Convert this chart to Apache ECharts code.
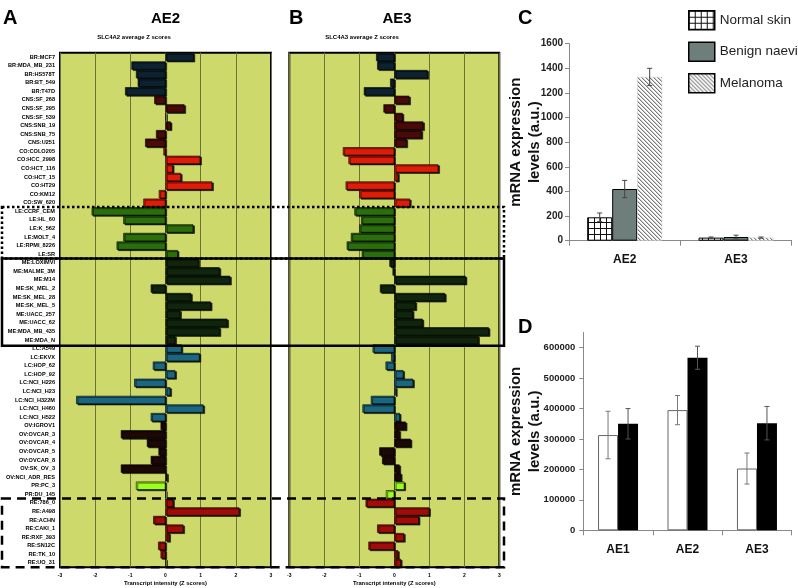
<!DOCTYPE html>
<html><head><meta charset="utf-8">
<script src="https://cdn.jsdelivr.net/npm/echarts@6/dist/echarts.min.js"></script>
<style>html,body{margin:0;padding:0;background:#fff}#c{width:798px;height:588px}</style>
</head><body><div id="c"></div>
<script>
const cellLines = ['BR:MCF7','BR:MDA_MB_231','BR:HS578T','BR:BT_549','BR:T47D',
 'CNS:SF_268','CNS:SF_295','CNS:SF_539','CNS:SNB_19','CNS:SNB_75','CNS:U251',
 'CO:COLO205','CO:HCC_2998','CO:HCT_116','CO:HCT_15','CO:HT29','CO:KM12','CO:SW_620',
 'LE:CCRF_CEM','LE:HL_60','LE:K_562','LE:MOLT_4','LE:RPMI_8226','LE:SR',
 'ME:LOXIMVI','ME:MALME_3M','ME:M14','ME:SK_MEL_2','ME:SK_MEL_28','ME:SK_MEL_5','ME:UACC_257','ME:UACC_62','ME:MDA_MB_435','ME:MDA_N',
 'LC:A549','LC:EKVX','LC:HOP_62','LC:HOP_92','LC:NCI_H226','LC:NCI_H23','LC:NCI_H322M','LC:NCI_H460','LC:NCI_H522',
 'OV:IGROV1','OV:OVCAR_3','OV:OVCAR_4','OV:OVCAR_5','OV:OVCAR_8','OV:SK_OV_3','OV:NCI_ADR_RES',
 'PR:PC_3','PR:DU_145',
 'RE:786_0','RE:A498','RE:ACHN','RE:CAKI_1','RE:RXF_393','RE:SN12C','RE:TK_10','RE:UO_31'];
const ae2Z = [0.80,-0.97,-0.84,-0.79,-1.15,
 -0.32,0.54,0.02,0.15,-0.27,-0.58,
 -0.06,0.99,0.21,0.44,1.33,-0.19,-0.63,
 -2.10,-1.20,0.79,-1.20,-1.39,0.35,
 0.94,1.54,1.84,-0.42,0.73,1.29,0.42,1.76,1.54,0.28,
 0.46,0.97,-0.36,0.28,-0.89,0.14,-2.54,1.08,-0.42,
 -0.14,-1.27,-0.53,-0.20,-0.42,-1.27,0.05,
 -0.84,0.01,
 0.22,2.10,-0.35,0.51,0.11,-0.21,-0.14,0.02];
const ae3Z = [-0.52,-0.49,0.95,-0.12,-0.87,
 0.43,-0.31,0.24,0.83,0.78,0.35,
 -1.47,-1.31,1.26,0.11,-1.39,-1.00,0.45,
 -1.14,-0.95,-1.00,-1.24,-1.36,-0.93,
 -0.14,-0.05,2.04,-0.41,1.45,0.61,0.53,0.81,2.70,2.40,
 -0.62,-0.09,-0.25,0.26,0.54,0.05,-0.67,-0.91,0.16,
 0.33,0.15,0.47,-0.43,-0.35,0.15,0.19,
 0.29,-0.24,
 -0.82,1.00,0.70,-0.49,0.28,-0.74,0.11,0.19];
const zTicks = [-3,-2,-1,0,1,2,3];

const cCategories = ['AE2','AE3'];
const cSeriesNames = ['Normal skin','Benign naevi','Melanoma'];
const normalSkin = [190, 25];
const normalSkinErr = [35, 5];
const benignNaevi = [420, 30];
const benignNaeviErr = [70, 15];
const melanoma = [1330, 25];
const melanomaErr = [70, 5];

const dCategories = ['AE1','AE2','AE3'];
const dWhite = [313000, 395000, 203000];
const dWhiteErr = [78000, 48000, 51000];
const dBlack = [350000, 567000, 352000];
const dBlackErr = [50000, 38000, 55000];

const groupColor = {BR:'#0d2231',CNS:'#4b0a08',CO:'#e01b07',LE:'#2b6f0c',ME:'#0f260c',LC:'#1b6680',OV:'#1e0707',PR:'#9dff1d',RE:'#a10c08'};
const prefix = s => s.split(':')[0];

function gridPattern(){
  const c=document.createElement('canvas'); c.width=6; c.height=6;
  const g=c.getContext('2d'); g.fillStyle='#fff'; g.fillRect(0,0,6,6);
  g.fillStyle='#111'; g.fillRect(0,0,6,1); g.fillRect(0,0,1,6); return c;
}
function hatchPattern(){
  const c=document.createElement('canvas'); c.width=4; c.height=4;
  const g=c.getContext('2d'); g.fillStyle='#fff'; g.fillRect(0,0,4,4);
  g.fillStyle='#7a7a7a'; for(let i=0;i<4;i++){ g.fillRect(i,i,1,1); }
  g.fillStyle='#c8c8c8'; for(let i=0;i<4;i++){ g.fillRect((i+1)%4,i,1,1); }
  return c;
}
const gridFill = {image: gridPattern(), repeat:'repeat'};
const hatchFill = {image: hatchPattern(), repeat:'repeat'};

const FF = 'Liberation Sans, Arial, sans-serif';
const plain = v => String(v);

function zSeries(vals, idx){
  return {type:'bar', xAxisIndex:idx, yAxisIndex:idx, barCategoryGap:'4%',
    data: vals.map((v,i)=>({value:v, itemStyle:{color: groupColor[prefix(cellLines[i])]}})),
    itemStyle:{borderColor:'#000', borderWidth:0.6, shadowColor:'rgba(0,0,0,0.85)', shadowOffsetX:1.5, shadowOffsetY:1.2, shadowBlur:0},
    silent:true, animation:false};
}
function errRender(offset, cap, color){
  return function(params, api){
    const x=api.value(0), v=api.value(1), e=api.value(2);
    const t=api.coord([x, v+e]), b=api.coord([x, v-e]);
    const cx=t[0]+offset;
    const st={stroke:color, lineWidth:1};
    return {type:'group', children:[
      {type:'line', shape:{x1:cx,y1:t[1],x2:cx,y2:b[1]}, style:st},
      {type:'line', shape:{x1:cx-cap,y1:t[1],x2:cx+cap,y2:t[1]}, style:st},
      {type:'line', shape:{x1:cx-cap,y1:b[1],x2:cx+cap,y2:b[1]}, style:st}
    ]};
  };
}
function errSeries(name, vals, errs, xi, offset, cap, color){
  return {type:'custom', name:name, xAxisIndex:xi, yAxisIndex:xi, z:5, silent:true,
    data: vals.map((v,i)=>[i, v, errs[i]]), renderItem: errRender(offset, cap, color)};
}
function zXAxis(gi){
  return {type:'value', gridIndex:gi, min:zTicks[0], max:zTicks[zTicks.length-1], interval:1,
    splitLine:{show:true, lineStyle:{color:'#6d7236', width:1}},
    axisLine:{show:false}, axisTick:{show:false},
    axisLabel:{fontSize:5, color:'#000', fontWeight:'bold', margin:6, fontFamily:FF},
    name:'Transcript intensity (Z scores)', nameLocation:'middle', nameGap:13, nameMoveOverlap:false,
    nameTextStyle:{fontSize:5.8, fontWeight:'bold', color:'#000', fontFamily:FF}};
}
function zYAxis(gi, show){
  return {type:'category', gridIndex:gi, inverse:true, data:cellLines,
    axisLine:{show:false, onZero:false}, axisTick:{show:false}, splitLine:{show:false},
    axisLabel:{show:show, interval:0, fontSize:5.6, fontWeight:'bold', color:'#000', margin:5, fontFamily:FF}};
}

const yName = {fontSize:15, fontWeight:'bold', color:'#111', lineHeight:19, fontFamily:FF};
const tBig = {fontSize:20, fontWeight:'bold', color:'#000', fontFamily:FF};

const option = {
  animation:false,
  backgroundColor:'#fff',
  title:[
    {text:'A', left:3, top:8, padding:0, textStyle:tBig},
    {text:'AE2', left:165.5, top:11, padding:0, textAlign:'center', textStyle:{fontSize:15, fontWeight:'bold', color:'#000', fontFamily:FF}},
    {text:'SLC4A2 average Z scores', left:134, top:34, padding:0, textAlign:'center', textStyle:{fontSize:6, fontWeight:'bold', color:'#000', fontFamily:FF}},
    {text:'B', left:289, top:8, padding:0, textStyle:tBig},
    {text:'AE3', left:397, top:11, padding:0, textAlign:'center', textStyle:{fontSize:15, fontWeight:'bold', color:'#000', fontFamily:FF}},
    {text:'SLC4A3 average Z scores', left:362, top:34, padding:0, textAlign:'center', textStyle:{fontSize:6, fontWeight:'bold', color:'#000', fontFamily:FF}},
    {text:'C', left:518, top:8, padding:0, textStyle:tBig},
    {text:'D', left:518, top:317, padding:0, textStyle:tBig}
  ],
  legend:{data:cSeriesNames, orient:'vertical', left:683, top:5, itemWidth:26, itemHeight:19, itemGap:11, icon:'rect',
    textStyle:{fontSize:13.5, color:'#222', fontFamily:FF}, itemStyle:{borderColor:'#000', borderWidth:1.5}, selectedMode:false},
  grid:[
    {left:60, top:52.7, width:211, height:514.5, show:true, backgroundColor:'#cdd96a', borderColor:'#000', borderWidth:2, outerBoundsMode:'none', containLabel:false},
    {left:289.3, top:52.7, width:210, height:514.5, show:true, backgroundColor:'#cdd96a', borderColor:'#000', borderWidth:2, outerBoundsMode:'none', containLabel:false},
    {left:569, top:43.7, width:222.7, height:197, outerBoundsMode:'none', containLabel:false},
    {left:583.3, top:332.5, width:208.4, height:197.8, outerBoundsMode:'none', containLabel:false}
  ],
  xAxis:[
    zXAxis(0), zXAxis(1),
    {type:'category', gridIndex:2, data:cCategories,
      axisLine:{lineStyle:{color:'#888'}}, axisTick:{show:true, length:5, lineStyle:{color:'#888'}},
      axisLabel:{fontSize:12, fontWeight:'bold', color:'#111', margin:13, fontFamily:FF}},
    {type:'category', gridIndex:3, data:dCategories,
      axisLine:{lineStyle:{color:'#888'}}, axisTick:{show:true, length:5, lineStyle:{color:'#888'}},
      axisLabel:{fontSize:12, fontWeight:'bold', color:'#111', margin:13, fontFamily:FF}}
  ],
  yAxis:[
    zYAxis(0, true), zYAxis(1, false),
    {type:'value', gridIndex:2, min:0, max:1600, interval:200, splitLine:{show:false},
      axisLine:{show:true, lineStyle:{color:'#888'}}, axisTick:{show:true, length:4, lineStyle:{color:'#888'}},
      axisLabel:{fontSize:10, fontWeight:'bold', color:'#222', margin:6, fontFamily:FF, formatter:plain},
      name:'mRNA expression\nlevels (a.u.)', nameLocation:'middle', nameGap:25, nameMoveOverlap:false, nameTextStyle:yName},
    {type:'value', gridIndex:3, min:0, max:650000, interval:100000, splitLine:{show:false},
      axisLine:{show:true, lineStyle:{color:'#888'}}, axisTick:{show:true, length:4, lineStyle:{color:'#888'}},
      axisLabel:{fontSize:9.5, fontWeight:'bold', color:'#222', margin:8, showMaxLabel:false, fontFamily:FF, formatter:plain},
      name:'mRNA expression\nlevels (a.u.)', nameLocation:'middle', nameGap:39, nameMoveOverlap:false, nameTextStyle:yName}
  ],
  series:[
    zSeries(ae2Z, 0), zSeries(ae3Z, 1),
    {type:'bar', name:cSeriesNames[0], xAxisIndex:2, yAxisIndex:2, barWidth:25, barGap:'0%', data:normalSkin,
      itemStyle:{color:gridFill, borderColor:'#000', borderWidth:1}},
    {type:'bar', name:cSeriesNames[1], xAxisIndex:2, yAxisIndex:2, barWidth:25, barGap:'0%', data:benignNaevi,
      itemStyle:{color:'#6e7e7b', borderColor:'#000', borderWidth:1}},
    {type:'bar', name:cSeriesNames[2], xAxisIndex:2, yAxisIndex:2, barWidth:25, barGap:'0%', data:melanoma,
      itemStyle:{color:hatchFill, borderColor:'#ccc', borderWidth:0.5}},
    errSeries('e1', normalSkin, normalSkinErr, 2, -25, 2.5, '#444'),
    errSeries('e2', benignNaevi, benignNaeviErr, 2, 0, 2.5, '#444'),
    errSeries('e3', melanoma, melanomaErr, 2, 25, 2.5, '#444'),
    {type:'bar', name:'D white', xAxisIndex:3, yAxisIndex:3, barWidth:20, barGap:'0%', data:dWhite,
      itemStyle:{color:'#fff', borderColor:'#666', borderWidth:1}},
    {type:'bar', name:'D black', xAxisIndex:3, yAxisIndex:3, barWidth:20, barGap:'0%', data:dBlack,
      itemStyle:{color:'#000'}},
    errSeries('e4', dWhite, dWhiteErr, 3, -10, 2.5, '#777'),
    errSeries('e5', dBlack, dBlackErr, 3, 10, 2.5, '#555')
  ]
};

const chart = echarts.init(document.getElementById('c'), null, {renderer:'canvas'});
chart.setOption(option);

// group boxes (LE dotted, ME solid, RE dashed) positioned from the category axis
const centers = cellLines.map(n => chart.convertToPixel({yAxisIndex:0}, n));
const step = centers[1]-centers[0];
const edge = i => (i < centers.length ? centers[i] : centers[centers.length-1]+step) - step/2;
function range(p){ const f=cellLines.findIndex(n=>prefix(n)===p); let l=f; while(l+1<cellLines.length && prefix(cellLines[l+1])===p) l++; return [edge(f), edge(l+1)]; }
const BX0 = 2, BX1 = 504;
const le = range('LE'), me = range('ME'), re = range('RE');
chart.setOption({graphic:[
  {type:'rect', z:100, shape:{x:BX0, y:le[0], width:BX1-BX0, height:le[1]-le[0]}, style:{fill:null, stroke:'#000', lineWidth:2.5, lineDash:[2.5,2.5]}},
  {type:'rect', z:101, shape:{x:BX0, y:me[0], width:BX1-BX0, height:me[1]-me[0]+1.5}, style:{fill:null, stroke:'#000', lineWidth:2.5}},
  {type:'rect', z:100, shape:{x:BX0, y:re[0], width:BX1-BX0, height:re[1]-re[0]}, style:{fill:null, stroke:'#000', lineWidth:2.5, lineDash:[9,6]}}
]});
</script></body></html>
